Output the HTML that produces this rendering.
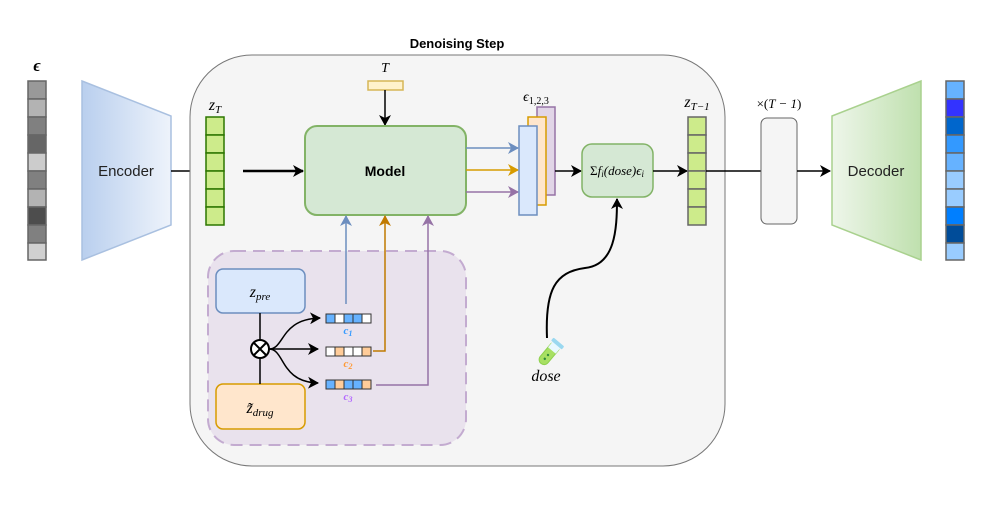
<!DOCTYPE html>
<html><head><meta charset="utf-8"><style>
html,body{margin:0;padding:0;background:#fff;}
svg{display:block;}
text{font-family:"Liberation Sans",sans-serif;}
.m{font-family:"Liberation Serif",serif;font-style:italic;}
</style></head><body>
<svg width="996" height="510" viewBox="0 0 996 510" xmlns="http://www.w3.org/2000/svg">
<defs>
<linearGradient id="enc" x1="0" x2="1" y1="0" y2="0"><stop offset="0" stop-color="#b9cfee"/><stop offset="1" stop-color="#eef3fb"/></linearGradient>
<linearGradient id="dec" x1="0" x2="1" y1="0" y2="0"><stop offset="0" stop-color="#eef6ea"/><stop offset="1" stop-color="#bfe0ae"/></linearGradient>
<marker id="ak" markerWidth="12" markerHeight="12" refX="10" refY="6" orient="auto" markerUnits="userSpaceOnUse"><path d="M0,0 L11,6 L0,12 L3,6 z" fill="#000"/></marker>
<marker id="ab" markerWidth="12" markerHeight="12" refX="10" refY="6" orient="auto" markerUnits="userSpaceOnUse"><path d="M0,0 L11,6 L0,12 L3,6 z" fill="#6c8ebf"/></marker>
<marker id="ao" markerWidth="12" markerHeight="12" refX="10" refY="6" orient="auto" markerUnits="userSpaceOnUse"><path d="M0,0 L11,6 L0,12 L3,6 z" fill="#d79b00"/></marker>
<marker id="ao2" markerWidth="12" markerHeight="12" refX="10" refY="6" orient="auto" markerUnits="userSpaceOnUse"><path d="M0,0 L11,6 L0,12 L3,6 z" fill="#c07a00"/></marker>
<marker id="ap" markerWidth="12" markerHeight="12" refX="10" refY="6" orient="auto" markerUnits="userSpaceOnUse"><path d="M0,0 L11,6 L0,12 L3,6 z" fill="#9673a6"/></marker>
</defs>

<text x="37" y="71" class="m" font-size="17" text-anchor="middle" font-weight="bold">ϵ</text>
<g stroke="#666" stroke-width="1.5">
<rect x="28" y="81" width="18" height="18" fill="#999"/>
<rect x="28" y="99" width="18" height="18" fill="#b3b3b3"/>
<rect x="28" y="117" width="18" height="18" fill="#808080"/>
<rect x="28" y="135" width="18" height="18" fill="#666"/>
<rect x="28" y="153" width="18" height="18" fill="#ccc"/>
<rect x="28" y="171" width="18" height="18" fill="#808080"/>
<rect x="28" y="189" width="18" height="18" fill="#b3b3b3"/>
<rect x="28" y="207" width="18" height="18" fill="#4d4d4d"/>
<rect x="28" y="225" width="18" height="18" fill="#808080"/>
<rect x="28" y="243" width="18" height="17" fill="#d0d0d0"/>
</g>

<polygon points="82,81 171,116 171,225 82,260" fill="url(#enc)" stroke="#a9c0e0" stroke-width="1.5"/>
<text x="126" y="176" font-size="15" text-anchor="middle" fill="#222">Encoder</text>
<line x1="171" y1="171" x2="205" y2="171" stroke="#000" stroke-width="1.5" marker-end="url(#ak)"/>

<text x="457" y="48" font-size="13" font-weight="bold" text-anchor="middle">Denoising Step</text>
<rect x="190" y="55" width="535" height="411" rx="62" fill="#f5f5f5" stroke="#777" stroke-width="1"/>

<text x="215" y="110" class="m" font-size="16" text-anchor="middle">z<tspan font-size="11" dy="3">T</tspan></text>
<g fill="#cdeb8b" stroke="#2d7600" stroke-width="1.5">
<rect x="206" y="117" width="18" height="18"/><rect x="206" y="135" width="18" height="18"/><rect x="206" y="153" width="18" height="18"/>
<rect x="206" y="171" width="18" height="18"/><rect x="206" y="189" width="18" height="18"/><rect x="206" y="207" width="18" height="18"/>
</g>
<line x1="243" y1="171" x2="303" y2="171" stroke="#000" stroke-width="2.5" marker-end="url(#ak)"/>

<text x="385" y="72" class="m" font-size="14" text-anchor="middle">T</text>
<rect x="368" y="81" width="35" height="9" fill="#fff2cc" stroke="#d6b656" stroke-width="1.5"/>
<line x1="385" y1="90" x2="385" y2="125" stroke="#000" stroke-width="1.5" marker-end="url(#ak)"/>

<rect x="305" y="126" width="161" height="89" rx="12" fill="#d5e8d4" stroke="#82b366" stroke-width="2"/>
<text x="385" y="176" font-size="14" font-weight="bold" text-anchor="middle">Model</text>

<line x1="466" y1="148" x2="518" y2="148" stroke="#6c8ebf" stroke-width="1.5" marker-end="url(#ab)"/>
<line x1="466" y1="170" x2="518" y2="170" stroke="#d79b00" stroke-width="1.5" marker-end="url(#ao)"/>
<line x1="466" y1="192" x2="518" y2="192" stroke="#9673a6" stroke-width="1.5" marker-end="url(#ap)"/>

<text x="536" y="101" class="m" font-size="14" text-anchor="middle">ϵ<tspan font-size="10" dy="3" font-style="normal">1,2,3</tspan></text>
<rect x="537" y="107" width="18" height="88" fill="#e1d5e7" stroke="#9673a6" stroke-width="1.5"/>
<rect x="528" y="117" width="18" height="88" fill="#ffe6cc" stroke="#d79b00" stroke-width="1.5"/>
<rect x="519" y="126" width="18" height="89" fill="#dae8fc" stroke="#6c8ebf" stroke-width="1.5"/>
<line x1="555" y1="171" x2="581" y2="171" stroke="#000" stroke-width="1.5" marker-end="url(#ak)"/>

<rect x="582" y="144" width="71" height="53" rx="10" fill="#d5e8d4" stroke="#82b366" stroke-width="1.5"/>
<text x="617" y="175" class="m" font-size="13" text-anchor="middle"><tspan font-style="normal">Σ</tspan>f<tspan font-size="9" dy="2">i</tspan><tspan dy="-2">(dose)ϵ</tspan><tspan font-size="9" dy="2">i</tspan></text>
<line x1="653" y1="171" x2="687" y2="171" stroke="#000" stroke-width="1.5" marker-end="url(#ak)"/>

<text x="697" y="107" class="m" font-size="16" text-anchor="middle">z<tspan font-size="11" dy="3">T−1</tspan></text>
<g fill="#cdeb8b" stroke="#666" stroke-width="1.5">
<rect x="688" y="117" width="18" height="18"/><rect x="688" y="135" width="18" height="18"/><rect x="688" y="153" width="18" height="18"/>
<rect x="688" y="171" width="18" height="18"/><rect x="688" y="189" width="18" height="18"/><rect x="688" y="207" width="18" height="18"/>
</g>

<line x1="706" y1="171" x2="761" y2="171" stroke="#000" stroke-width="1.5"/>
<text x="779" y="108" class="m" font-size="13" text-anchor="middle"><tspan font-style="normal">×(</tspan>T − 1<tspan font-style="normal">)</tspan></text>
<rect x="761" y="118" width="36" height="106" rx="6" fill="#f5f5f5" stroke="#666" stroke-width="1"/>
<line x1="797" y1="171" x2="830" y2="171" stroke="#000" stroke-width="1.5" marker-end="url(#ak)"/>

<polygon points="832,116 921,81 921,260 832,225" fill="url(#dec)" stroke="#a9d18e" stroke-width="1.5"/>
<text x="876" y="176" font-size="15" text-anchor="middle" fill="#222">Decoder</text>

<g stroke="#666" stroke-width="1.5">
<rect x="946" y="81" width="18" height="18" fill="#66b2ff"/>
<rect x="946" y="99" width="18" height="18" fill="#3333ff"/>
<rect x="946" y="117" width="18" height="18" fill="#0066cc"/>
<rect x="946" y="135" width="18" height="18" fill="#3399ff"/>
<rect x="946" y="153" width="18" height="18" fill="#66b2ff"/>
<rect x="946" y="171" width="18" height="18" fill="#99ccff"/>
<rect x="946" y="189" width="18" height="18" fill="#99ccff"/>
<rect x="946" y="207" width="18" height="18" fill="#007fff"/>
<rect x="946" y="225" width="18" height="18" fill="#004c99"/>
<rect x="946" y="243" width="18" height="17" fill="#99ccff"/>
</g>

<rect x="208" y="251" width="258" height="194" rx="26" fill="#e1d5e7" fill-opacity="0.6" stroke="#c3abd0" stroke-width="2" stroke-dasharray="12,7"/>
<rect x="216" y="269" width="89" height="44" rx="7" fill="#dae8fc" stroke="#6c8ebf" stroke-width="1.5"/>
<text x="260" y="297" class="m" font-size="16" text-anchor="middle">z<tspan font-size="11" dy="3">pre</tspan></text>
<rect x="216" y="384" width="89" height="45" rx="7" fill="#ffe6cc" stroke="#d79b00" stroke-width="1.5"/>
<text x="260" y="413" class="m" font-size="16" text-anchor="middle">z̃<tspan font-size="11" dy="3">drug</tspan></text>
<line x1="260" y1="313" x2="260" y2="384" stroke="#000" stroke-width="1.5"/>
<circle cx="260" cy="349" r="9" fill="#fff" stroke="#000" stroke-width="2"/>
<path d="M254,343 L266,355 M266,343 L254,355" stroke="#000" stroke-width="2"/>
<path d="M269,349 C285,349 280,319 320,318" fill="none" stroke="#000" stroke-width="1.5" marker-end="url(#ak)"/>
<line x1="269" y1="349" x2="318" y2="349" stroke="#000" stroke-width="1.5" marker-end="url(#ak)"/>
<path d="M269,349 C285,349 280,382 318,383" fill="none" stroke="#000" stroke-width="1.5" marker-end="url(#ak)"/>

<g stroke="#333" stroke-width="1">
<rect x="326" y="314" width="9" height="9" fill="#66b2ff"/><rect x="335" y="314" width="9" height="9" fill="#fff"/><rect x="344" y="314" width="9" height="9" fill="#66b2ff"/><rect x="353" y="314" width="9" height="9" fill="#66b2ff"/><rect x="362" y="314" width="9" height="9" fill="#fff"/>
<rect x="326" y="347" width="9" height="9" fill="#fff"/><rect x="335" y="347" width="9" height="9" fill="#ffcc99"/><rect x="344" y="347" width="9" height="9" fill="#fff"/><rect x="353" y="347" width="9" height="9" fill="#fff"/><rect x="362" y="347" width="9" height="9" fill="#ffcc99"/>
<rect x="326" y="380" width="9" height="9" fill="#66b2ff"/><rect x="335" y="380" width="9" height="9" fill="#ffcc99"/><rect x="344" y="380" width="9" height="9" fill="#66b2ff"/><rect x="353" y="380" width="9" height="9" fill="#66b2ff"/><rect x="362" y="380" width="9" height="9" fill="#ffcc99"/>
</g>
<text x="348" y="334" class="m" font-size="11" fill="#3399ff" text-anchor="middle" font-weight="bold">c<tspan font-size="8" dy="2">1</tspan></text>
<text x="348" y="367" class="m" font-size="11" fill="#ff9933" text-anchor="middle" font-weight="bold">c<tspan font-size="8" dy="2">2</tspan></text>
<text x="348" y="400" class="m" font-size="11" fill="#b266ff" text-anchor="middle" font-weight="bold">c<tspan font-size="8" dy="2">3</tspan></text>

<line x1="346" y1="304" x2="346" y2="216" stroke="#6c8ebf" stroke-width="1.5" marker-end="url(#ab)"/>
<polyline points="373,351 385,351 385,216" fill="none" stroke="#c07a00" stroke-width="1.5" marker-end="url(#ao2)"/>
<polyline points="376,385 428,385 428,216" fill="none" stroke="#9673a6" stroke-width="1.5" marker-end="url(#ap)"/>

<path d="M547,338 C545,290 555,272 585,268 C615,265 617,230 617,199" fill="none" stroke="#000" stroke-width="2" marker-end="url(#ak)"/>
<g transform="rotate(40 548 355)">
<rect x="543" y="340" width="10" height="26" rx="5" fill="#a8e063" stroke="#8fd14f" stroke-width="1"/>
<rect x="543" y="340" width="10" height="9" fill="#e8f8ff"/>
<rect x="541" y="338" width="14" height="4" rx="1" fill="#9ad8f0"/>
<circle cx="548" cy="355" r="1.2" fill="#2f8a3a"/><circle cx="548" cy="360" r="1.2" fill="#2f8a3a"/>
</g>
<text x="546" y="381" class="m" font-size="16" text-anchor="middle">dose</text>
</svg>
</body></html>
